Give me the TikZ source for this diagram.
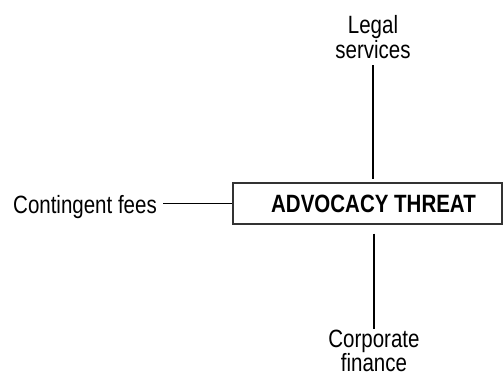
\documentclass[tikz,border=0pt]{standalone}
\usepackage{fontspec}
\setmainfont{Liberation Sans}[FakeStretch=0.82]
\usepackage{tikz}
\usetikzlibrary{positioning}
\tikzset{
	threat node/.style={rectangle,draw=black!80,line width=1.1pt,minimum width=269pt,minimum height=41pt,inner sep=0pt,font=\bfseries},
	side node/.style={align=center,inner sep=0pt},
	link/.style={line width=1.5pt}
}

\begin{document}
\begin{tikzpicture}[x=1pt,y=-1pt]
            \fontsize{25}{21}\selectfont
            \useasboundingbox (0,0) rectangle (503,372);
            \node [threat node] (threat) at (367.5,203.5) {\hspace*{12pt}ADVOCACY THREAT};
            \node [side node,anchor=base east] (fees) at (157,213) {Contingent fees};
            \node [side node] (legal) at (373,37) {Legal\\services};
            \node [side node] (corp) at (374,351) {Corporate\\finance};
            % connectors
            \draw [link] (fees.east |- threat.west) ++(6,0) -- (threat.west);
            \draw [link] (legal.south |- 0,65) -- ([yshift=3pt]legal.south |- threat.north);
            \draw [link] ([yshift=-9pt]corp.north |- threat.south) -- (corp.north |- 0,329);
\end{tikzpicture}
\end{document}
